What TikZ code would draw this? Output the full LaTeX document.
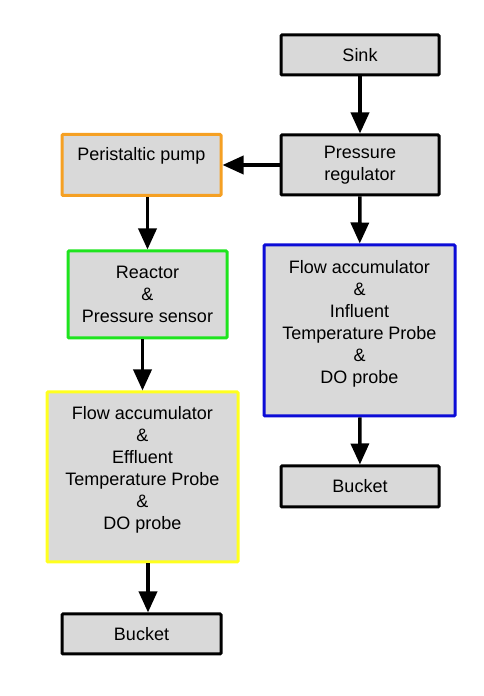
\documentclass[tikz,border=0pt]{standalone}
\usepackage{fontspec}
\setmainfont{Liberation Sans}
\usetikzlibrary{arrows.meta}

\definecolor{boxgray}{RGB}{217,217,217}
\definecolor{pumporange}{RGB}{245,160,35}
\definecolor{reactgreen}{RGB}{30,228,30}
\definecolor{effyellow}{RGB}{255,255,30}
\definecolor{infblue}{RGB}{12,12,215}

\begin{document}
\begin{tikzpicture}[x=1pt, y=1pt,
  box/.style={draw=black, fill=boxgray, line width=3pt, rounded corners=1pt,
    align=center, inner sep=0pt, font=\fontsize{18}{22}\selectfont},
  flow/.style={line width=3.5pt, -{Triangle[length=21pt, width=18pt]}}]
  \useasboundingbox (0,0) rectangle (484,696);

  % right column
  \node [box, minimum width=158, minimum height=40](sink) at (360,641) {Sink};
  \node [box, minimum width=158, minimum height=60](press) at (360,531) {Pressure\\regulator};
  \node [box, draw=infblue, minimum width=191, minimum height=171](inflow) at (359.5,365.5)
    {Flow accumulator\\\&\\Influent\\Temperature Probe\\\&\\DO probe\\[-4pt]\mbox{}};
  \node [box, minimum width=158, minimum height=41](bucketR) at (360,209.5) {Bucket};

  % left column
  \node [box, draw=pumporange, minimum width=159, minimum height=61](pump) at (141.5,531)
    {Peristaltic pump\\\mbox{}};
  \node [box, draw=reactgreen, minimum width=159, minimum height=87](react) at (147.5,401.5)
    {Reactor\\\&\\Pressure sensor};
  \node [box, draw=effyellow, minimum width=191, minimum height=170](effflow) at (142.5,219)
    {Flow accumulator\\\&\\Effluent\\Temperature Probe\\\&\\DO probe\\[-4pt]\mbox{}};
  \node [box, minimum width=159, minimum height=40](bucketL) at (141.5,62) {Bucket};

  \draw [flow] (sink) -- (press);
  \draw [flow] (press) -- (pump);
  \draw [flow] (press) -- (inflow);
  \draw [flow] (inflow) -- (bucketR);
  \draw [flow] (react.north |- pump.south) -- (react.north);
  \draw [flow] (react.south -| effflow.north) -- (effflow.north);
  \draw [flow] ([xshift=5.5pt]effflow.south) -- ([xshift=5.5pt]effflow.south |- bucketL.north);
\end{tikzpicture}
\end{document}
